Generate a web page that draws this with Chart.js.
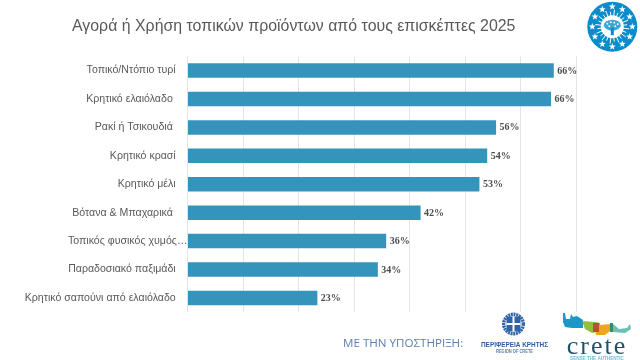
<!DOCTYPE html>
<html><head><meta charset="utf-8">
<style>html,body{margin:0;padding:0;background:#fff}#w{width:640px;height:360px}</style>
<script src="https://cdn.jsdelivr.net/npm/chart.js@4/dist/chart.umd.min.js"></script>
</head><body><div id="w"><canvas id="c" width="640" height="360"></canvas></div>
<script>
const chartTitle = "Αγορά ή Χρήση τοπικών προϊόντων από τους επισκέπτες 2025";
const categories = ["Τοπικό/Ντόπιο τυρί","Κρητικό ελαιόλαδο\u00a0","Ρακί ή Τσικουδιά\u00a0","Κρητικό κρασί","Κρητικό μέλι","Βότανα & Μπαχαρικά\u00a0","Τοπικός φυσικός χυμός…","Παραδοσιακό παξιμάδι","Κρητικό σαπούνι από ελαιόλαδο"];
const values = [66,65.5,55.6,54,52.6,42,35.8,34.3,23.4];
const valueLabels = ["66%","66%","56%","54%","53%","42%","36%","34%","23%"];
const supportText = "ΜΕ ΤΗΝ ΥΠΟΣΤΗΡΙΞΗ:";
const regionLines = ["ΠΕΡΙΦΕΡΕΙΑ ΚΡΗΤΗΣ","REGION OF CRETE"];
const creteLines = ["crete","SENSE THE AUTHENTIC"];

function star(ctx,x,y,r){ctx.beginPath();for(let i=0;i<10;i++){const a=-Math.PI/2+i*Math.PI/5,q=i%2?r*0.42:r;ctx.lineTo(x+q*Math.cos(a),y+q*Math.sin(a));}ctx.closePath();ctx.fill();}
function poly(ctx,pts,col){ctx.fillStyle=col;ctx.beginPath();pts.forEach(p=>ctx.lineTo(p[0],p[1]));ctx.closePath();ctx.fill();}
function drawSeal(ctx){
  const x=612.3,y=26.7;
  ctx.fillStyle="#0a8ccb";ctx.beginPath();ctx.arc(x,y,25,0,7);ctx.fill();
  ctx.fillStyle="#fff";
  for(let i=0;i<12;i++){const a=i*Math.PI/6-Math.PI/2;star(ctx,x+20*Math.cos(a),y+20*Math.sin(a),3.6);}
  ctx.strokeStyle="#fff";ctx.lineWidth=1;
  for(let i=0;i<24;i++){const a=i*Math.PI/12+0.13,l=i%2?15:17;ctx.beginPath();ctx.moveTo(x+8*Math.cos(a),y+8*Math.sin(a));ctx.lineTo(x+l*Math.cos(a),y+l*Math.sin(a));ctx.stroke();}
  ctx.beginPath();ctx.arc(x,y,11.5,0,7);ctx.fill();
  ctx.fillStyle="#3fa6d8";
  ctx.beginPath();ctx.ellipse(x,y-1.5,8.5,5.5,0,0,7);ctx.fill();
  ctx.fillStyle="#0a8ccb";
  ctx.fillRect(x-1.5,y+1,3,7.5);
  ctx.fillStyle="#fff";
  for(const [dx,dy] of [[-5,-3],[-1.5,-4.5],[2,-4],[5.5,-2.5],[-3,-0.5],[3,-0.5]]){ctx.beginPath();ctx.arc(x+dx,y+dy,0.9,0,7);ctx.fill();}
}
function drawFooter(ctx){
  ctx.textBaseline="alphabetic";
  ctx.textAlign="left";ctx.fillStyle="#5b7fae";ctx.font="11.6px 'Open Sans'";
  ctx.fillText(supportText,343,347);
  // region emblem
  const ex=513.5,ey=324;
  ctx.strokeStyle="#2f64a8";ctx.lineWidth=3.4;ctx.setLineDash([2,.7]);
  ctx.beginPath();ctx.arc(ex,ey,9.8,0,7);ctx.stroke();ctx.setLineDash([]);
  ctx.fillStyle="#2f64a8";ctx.fillRect(ex-7,ey-7.5,14,15);
  ctx.fillStyle="#fff";ctx.fillRect(ex-1,ey-7.5,2,15);ctx.fillRect(ex-7,ey-1,14,2);
  ctx.textAlign="center";
  ctx.fillStyle="#2b5ea6";ctx.font="bold 7.6px 'Liberation Sans'";ctx.fillText(regionLines[0],514.5,346.5,67);
  ctx.fillStyle="#5c7fb0";ctx.font="bold 5px 'Liberation Sans'";ctx.fillText(regionLines[1],514.5,352.5,37);
  // crete island mark
  poly(ctx,[[563,322],[563,313],[565,313],[566,319],[570,319],[571,314],[573,317],[577,316],[583,320],[583,328],[572,328],[565,327]],"#1d97c6");
  poly(ctx,[[582,321],[596,322],[600,323],[600,331],[592,333],[585,329]],"#94bf3c");
  poly(ctx,[[599,325],[611,324],[610,331],[605,335],[596,335],[595,330]],"#f0a51f");
  poly(ctx,[[593,323],[599,323],[599,332],[593,332]],"#b5532a");
  poly(ctx,[[610,323],[613,323],[613,332],[610,332]],"#2f8a78");
  poly(ctx,[[613,324],[619,329],[627,328],[630,324],[631,329],[625,333],[613,332]],"#68c2b4");
  ctx.fillStyle="#1c5569";ctx.font="26px 'Liberation Serif'";
  if("letterSpacing" in ctx) ctx.letterSpacing="2px";
  ctx.fillText(creteLines[0],597,354);
  if("letterSpacing" in ctx) ctx.letterSpacing="0px";
  ctx.fillStyle="#6fc0d6";ctx.font="bold 4.6px 'Liberation Sans'";ctx.fillText(creteLines[1],597,359.5,56);
}
const extras = {
  id:"extras",
  afterDatasetsDraw(chart){
    const {ctx,scales:{x,y}}=chart;
    ctx.save();
    ctx.textAlign="left";ctx.textBaseline="middle";
    ctx.fillStyle="#595959";ctx.font="15.9px 'Liberation Sans'";
    ctx.fillText(chartTitle,72,27);
    ctx.fillStyle="#4d4d4d";ctx.font="bold 10px 'Liberation Serif'";
    values.forEach((v,i)=>ctx.fillText(valueLabels[i],x.getPixelForValue(v)+3.5,y.getPixelForValue(i)+0.5));
    ctx.restore();
    ctx.save();drawSeal(ctx);drawFooter(ctx);ctx.restore();
  }
};
new Chart(document.getElementById("c"),{
  type:"bar",
  data:{labels:categories,datasets:[{data:values,backgroundColor:"#3594bc",borderWidth:0,categoryPercentage:1,barPercentage:0.51}]},
  plugins:[extras],
  options:{
    indexAxis:"y",responsive:false,animation:false,
    layout:{padding:{left:0,right:64,top:56.3,bottom:47.8}},
    plugins:{legend:{display:false},tooltip:{enabled:false},title:{display:false}},
    scales:{
      x:{min:0,max:70,ticks:{stepSize:10,display:false},grid:{color:"#e4e4e4",lineWidth:1,drawTicks:false},border:{display:false}},
      y:{grid:{display:false,drawTicks:false},border:{display:false},
        afterFit(s){s.width=187.5;},
        ticks:{color:"#595959",font:{family:"'Liberation Sans'",size:10.6},padding:0,autoSkip:false,
          callback(v){const t=categories[v];return t.endsWith("…")?t:t+"\u00a0\u00a0\u00a0\u00a0";}}}
    }
  }
});
</script></body></html>
